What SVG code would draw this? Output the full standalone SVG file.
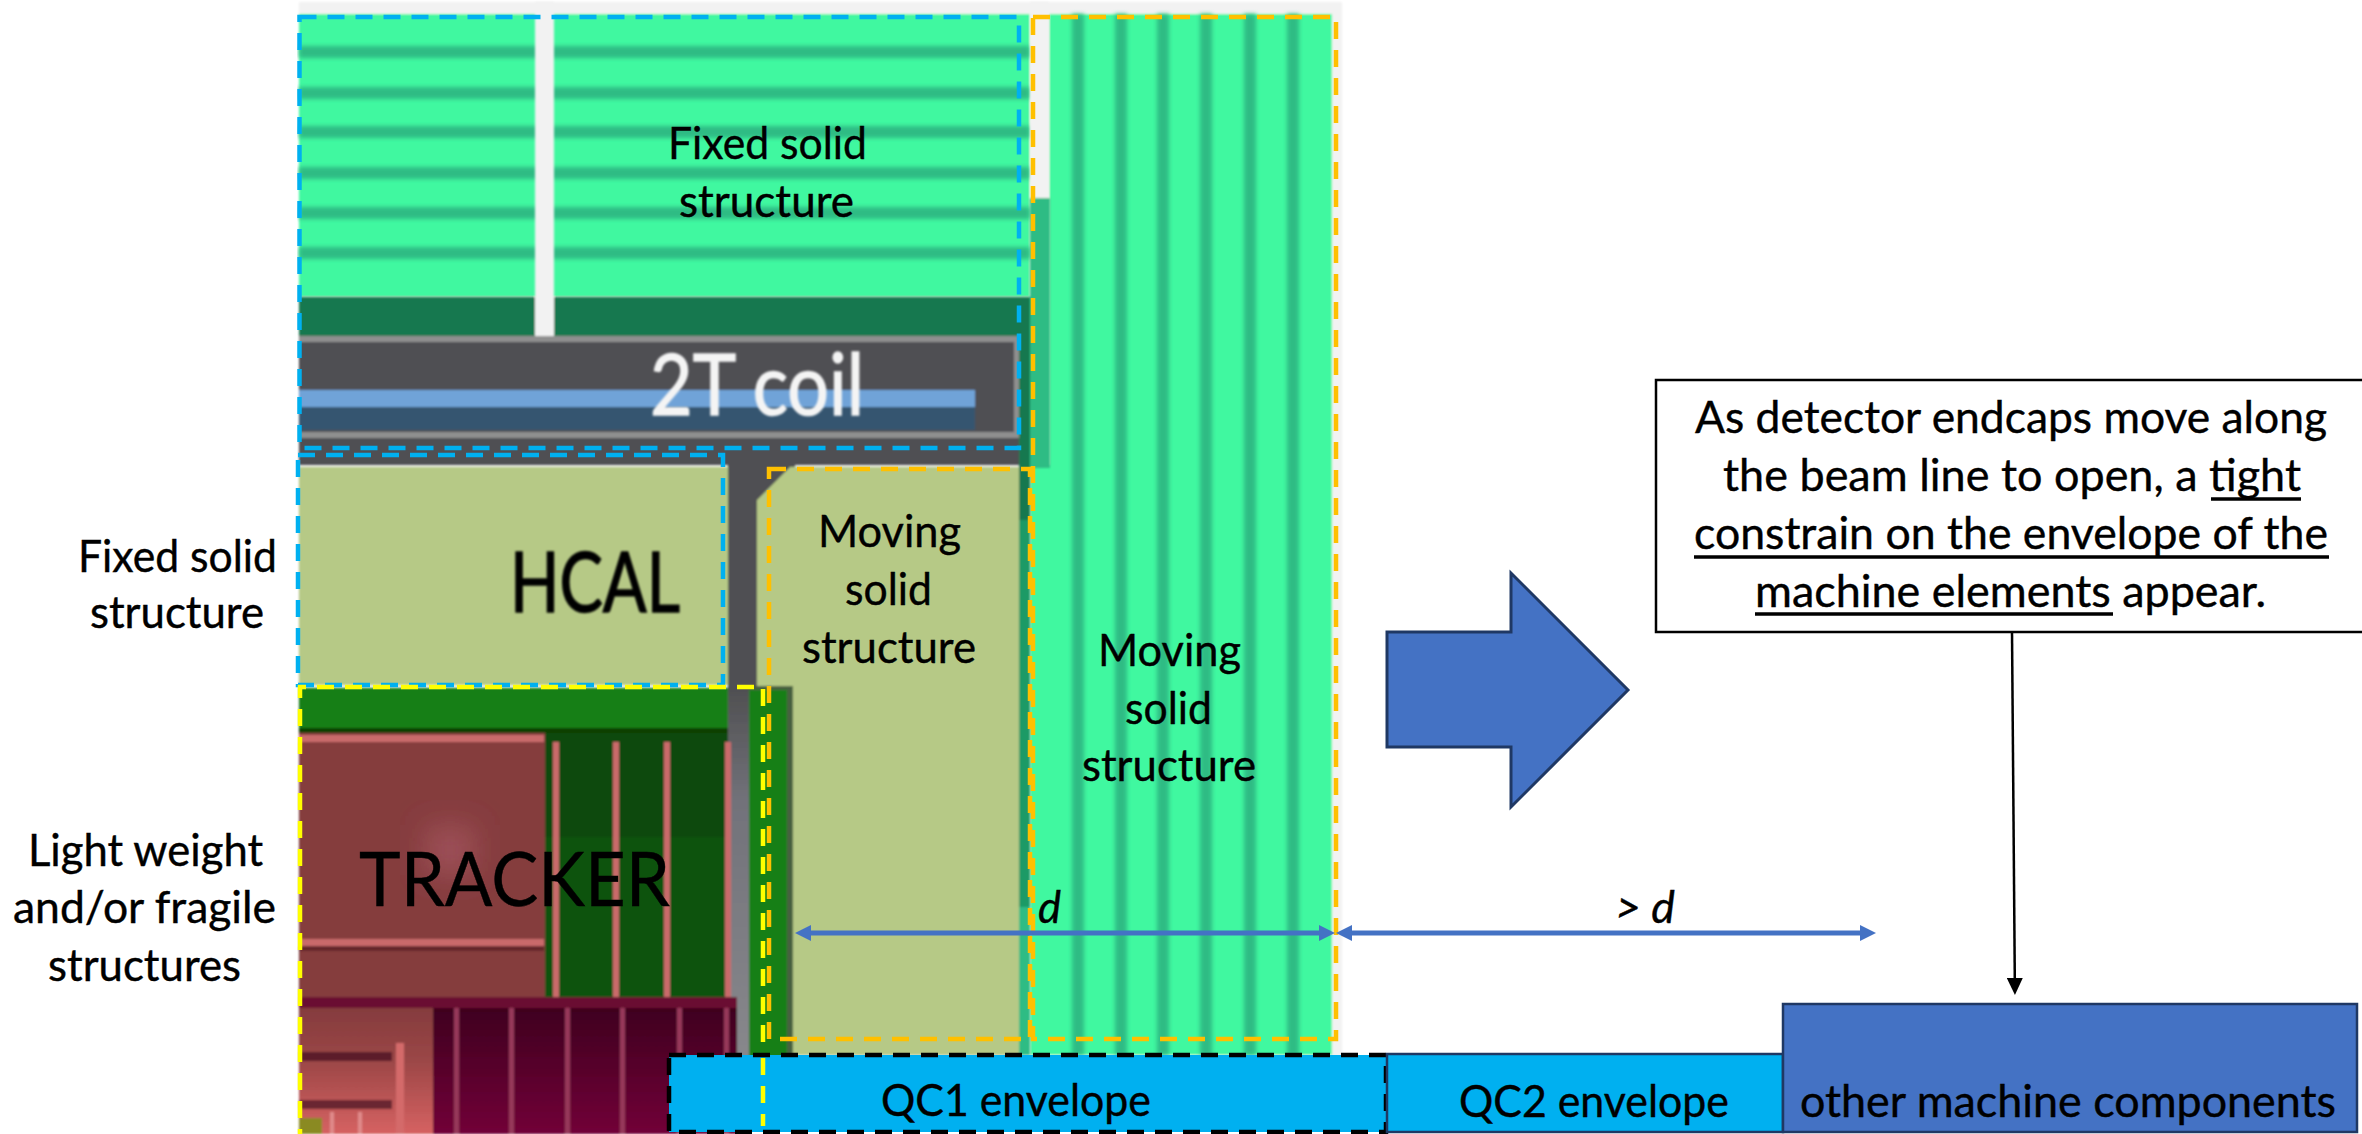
<svg xmlns="http://www.w3.org/2000/svg" width="2362" height="1134" viewBox="0 0 2362 1134">
<style>
text{font-family:"Lato","Carlito","Liberation Sans",sans-serif;font-size:44px;fill:#000;stroke:#000;stroke-width:0.4}
.it{font-style:italic}
.sg{fill:#3ff8a0}.st{fill:#2fbc84}.dg{fill:#17784f}.gr{fill:#505052}.ol{fill:#b6c986}.pk{fill:#c96a6a}.mb{fill:#96375a}
.bd{fill:none;stroke:#00b0f0;stroke-width:4.5;stroke-dasharray:17 11}
.od{fill:none;stroke:#ffc000;stroke-width:4.5;stroke-dasharray:17 11}
.yd{fill:none;stroke:#ffff00;stroke-width:4.5;stroke-dasharray:17 11}
.ul{stroke:#000;stroke-width:3.5}
.qc{fill:#00b0f0;stroke:#1f3864;stroke-width:2.5}
.mc{fill:#4472c4;stroke:#1f3864;stroke-width:2.5}
.ar{stroke:#4472c4;stroke-width:5;fill:none;marker-start:url(#bh);marker-end:url(#bh)}
</style>
<defs>
<filter id="soft" x="-2%" y="-2%" width="104%" height="104%"><feGaussianBlur stdDeviation="1.1"/></filter>
<filter id="soft1" x="-2%" y="-5%" width="104%" height="110%"><feGaussianBlur stdDeviation="2"/></filter>
<filter id="soft2" x="-5%" y="-5%" width="110%" height="110%"><feGaussianBlur stdDeviation="0.9"/></filter>
<filter id="soft3" x="-50%" y="-50%" width="200%" height="200%"><feGaussianBlur stdDeviation="14"/></filter>
<marker id="bh" markerUnits="userSpaceOnUse" markerWidth="16" markerHeight="16" refX="0" refY="8" orient="auto-start-reverse"><path d="M0 0L16 8L0 16z" fill="#4472c4"/></marker>
<marker id="kh" markerUnits="userSpaceOnUse" markerWidth="17" markerHeight="16" refX="0" refY="8" orient="auto"><path d="M0 0L17 8L0 16z" fill="#000"/></marker>
<linearGradient id="mar" x1="0" y1="0" x2="0" y2="1"><stop offset="0" stop-color="#3f051f"/><stop offset="1" stop-color="#720538"/></linearGradient>
<linearGradient id="red" x1="0" y1="0" x2="0" y2="1"><stop offset="0" stop-color="#853c3e"/><stop offset="0.4" stop-color="#9a4646"/><stop offset="1" stop-color="#d66262"/></linearGradient>
<linearGradient id="gry" x1="0" y1="0" x2="0" y2="1"><stop offset="0" stop-color="#505052"/><stop offset="0.3" stop-color="#72727a"/><stop offset="1" stop-color="#88888c"/></linearGradient>
</defs>

<g id="detector-cutaway">
<g filter="url(#soft)">
<rect x="299" y="2" width="1043" height="1060" fill="#f2f2f2"/>
<rect x="299" y="14" width="731" height="283" class="sg"/>
<rect x="1049" y="14" width="283" height="1041" class="sg"/>
<rect x="1030" y="465" width="20" height="590" class="sg"/>
</g>
<g filter="url(#soft1)">
<rect x="299" y="46" width="731" height="12" class="st"/><rect x="299" y="87" width="731" height="12" class="st"/><rect x="299" y="126" width="731" height="12" class="st"/><rect x="299" y="167" width="731" height="12" class="st"/><rect x="299" y="207" width="731" height="12" class="st"/><rect x="299" y="247" width="731" height="12" class="st"/>
<rect x="1072" y="14" width="12" height="1041" class="st"/><rect x="1115" y="14" width="12" height="1041" class="st"/><rect x="1157" y="14" width="12" height="1041" class="st"/><rect x="1200" y="14" width="12" height="1041" class="st"/><rect x="1244" y="14" width="12" height="1041" class="st"/><rect x="1287" y="14" width="12" height="1041" class="st"/>
</g>
<g filter="url(#soft)">
<rect x="299" y="297" width="731" height="40" class="dg"/>
<rect x="1019" y="330" width="11" height="135" class="dg"/>
<rect x="1030" y="198" width="20" height="270" class="st"/>
<rect x="535" y="2" width="19" height="335" fill="#f2f2f2"/>
<rect x="1030" y="2" width="19" height="196" fill="#f2f2f2"/>
<rect x="299" y="336" width="720" height="129" class="gr"/>
<rect x="299" y="336" width="720" height="6" fill="#8f8f8f"/>
<rect x="299" y="432" width="720" height="6" fill="#8f8f8f"/>
<rect x="1014" y="336" width="5" height="102" fill="#8f8f8f"/>
<rect x="299" y="390" width="676" height="17" fill="#6fa3d8"/>
<rect x="299" y="407" width="676" height="23" fill="#35556f"/>
<rect x="299" y="467" width="429" height="218" class="ol"/>
<rect x="728" y="460" width="67" height="50" class="gr"/>
<rect x="728" y="465" width="30" height="225" class="gr"/>
<rect x="728" y="690" width="21" height="370" fill="url(#gry)"/>
<path d="M757 500L790 467H1020V1055H793V686H757z" class="ol"/>
<rect x="1019" y="465" width="11" height="55" fill="#17784f"/>
<rect x="1019" y="520" width="11" height="387" fill="#1f9a66"/>
<rect x="1019" y="907" width="11" height="148" class="st"/>
<rect x="749" y="686" width="44" height="372" fill="#46603f"/>
<rect x="749" y="690" width="38" height="368" fill="#187f16"/>
<rect x="299" y="688" width="429" height="40" fill="#187f16"/>
<rect x="299" y="728" width="429" height="6" fill="#0a3f05"/>
<rect x="545" y="733" width="183" height="265" fill="#0b4a0a"/>
<rect x="545" y="837" width="183" height="160" fill="#0b520a"/>
<rect x="299" y="733" width="246" height="265" fill="#853c3e"/>
<rect x="425" y="825" width="50" height="50" fill="#9c5056" filter="url(#soft3)"/>
<rect x="299" y="735" width="245" height="7" class="pk"/>
<rect x="299" y="939" width="245" height="7" class="pk"/>
<rect x="299" y="946" width="245" height="5" fill="#65282c"/>
<rect x="553" y="742" width="6" height="255" class="pk"/><rect x="613" y="742" width="6" height="255" class="pk"/><rect x="664" y="742" width="6" height="255" class="pk"/><rect x="725" y="742" width="6" height="255" class="pk"/>
<rect x="299" y="997" width="438" height="11" fill="#6a0a30"/>
<rect x="433" y="1008" width="304" height="126" fill="url(#mar)"/>
<rect x="454" y="1008" width="5" height="126" class="mb"/><rect x="509" y="1008" width="5" height="126" class="mb"/><rect x="565" y="1008" width="5" height="126" class="mb"/><rect x="620" y="1008" width="5" height="126" class="mb"/><rect x="677" y="1008" width="5" height="126" class="mb"/><rect x="724" y="1008" width="5" height="126" class="mb"/>
<rect x="299" y="1008" width="134" height="126" fill="url(#red)"/>
<rect x="299" y="1052" width="93" height="9" fill="#5c1f2a"/>
<rect x="299" y="1100" width="93" height="9" fill="#6b2530"/>
<rect x="396" y="1043" width="8" height="91" fill="#d46a6a"/>
<rect x="330" y="1112" width="4" height="22" fill="#e08a8a"/><rect x="358" y="1112" width="4" height="22" fill="#e08a8a"/>
<rect x="299" y="1118" width="23" height="16" fill="#8a8a20"/>
</g>
<rect x="0" y="0" width="297" height="1134" fill="#fff"/>

<rect x="299.5" y="17" width="719.5" height="431" class="bd"/>
<rect x="298" y="455" width="425" height="230" class="bd"/>
<path d="M763 1126V687H300V1134" class="yd"/>
<rect x="769" y="469" width="261" height="570" class="od"/>
<rect x="1033" y="17" width="303" height="1022" class="od"/>
</g>

<g id="label-fixed-top"><text x="668" y="159" textLength="199" lengthAdjust="spacingAndGlyphs">Fixed solid</text><text x="679" y="217" textLength="175" lengthAdjust="spacingAndGlyphs">structure</text></g>
<g id="label-coil" filter="url(#soft2)"><text x="650" y="415" style="font-size:86px;fill:#f4f4f4;stroke:#f4f4f4;stroke-width:1.5" textLength="214" lengthAdjust="spacingAndGlyphs">2T coil</text></g>
<g id="label-hcal" filter="url(#soft2)"><text x="510" y="612" style="font-size:84px;stroke-width:1.5" textLength="170" lengthAdjust="spacingAndGlyphs">HCAL</text></g>
<g id="label-tracker"><text x="359" y="906" style="font-size:75px" textLength="311" lengthAdjust="spacingAndGlyphs">TRACKER</text></g>
<g id="label-moving-1"><text x="818" y="547" textLength="143" lengthAdjust="spacingAndGlyphs">Moving</text><text x="845" y="605" textLength="87" lengthAdjust="spacingAndGlyphs">solid</text><text x="802" y="663" textLength="174" lengthAdjust="spacingAndGlyphs">structure</text></g>
<g id="label-moving-2"><text x="1098" y="666" textLength="143" lengthAdjust="spacingAndGlyphs">Moving</text><text x="1125" y="724" textLength="87" lengthAdjust="spacingAndGlyphs">solid</text><text x="1082" y="781" textLength="174" lengthAdjust="spacingAndGlyphs">structure</text></g>
<g id="label-fixed-left"><text x="78" y="572" textLength="199" lengthAdjust="spacingAndGlyphs">Fixed solid</text><text x="90" y="628" textLength="174" lengthAdjust="spacingAndGlyphs">structure</text></g>
<g id="label-light"><text x="28" y="866" textLength="235" lengthAdjust="spacingAndGlyphs">Light weight</text><text x="13" y="923" textLength="263" lengthAdjust="spacingAndGlyphs">and/or fragile</text><text x="48" y="981" textLength="193" lengthAdjust="spacingAndGlyphs">structures</text></g>

<g id="block-arrow"><path d="M1387 632H1511V573L1628 690L1511 807V747H1387z" fill="#4472c4" stroke="#1f3864" stroke-width="3"/></g>

<g id="callout">
<rect x="1656" y="380" width="720" height="252" fill="#fff" stroke="#000" stroke-width="2.5"/>
<text x="1695" y="433" textLength="632" lengthAdjust="spacingAndGlyphs">As detector endcaps move along</text>
<text x="1723" y="491" textLength="578" lengthAdjust="spacingAndGlyphs">the beam line to open, a tight</text>
<text x="1694" y="549" textLength="634" lengthAdjust="spacingAndGlyphs">constrain on the envelope of the</text>
<text x="1755" y="607" textLength="511" lengthAdjust="spacingAndGlyphs">machine elements appear.</text>
<line x1="2211" y1="499" x2="2301" y2="499" class="ul"/>
<line x1="1694" y1="557" x2="2329" y2="557" class="ul"/>
<line x1="1755" y1="614" x2="2113" y2="614" class="ul"/>
</g>

<g id="qc1"><rect x="669" y="1055" width="717" height="77" fill="#00b0f0" stroke="#000" stroke-width="4.5" stroke-dasharray="17 11"/><path d="M763 1058V1126" class="yd"/><text x="881" y="1116" textLength="270" lengthAdjust="spacingAndGlyphs">QC1 envelope</text></g>
<g id="qc2"><rect x="1387" y="1054" width="396" height="78" class="qc"/><text x="1459" y="1117" textLength="270" lengthAdjust="spacingAndGlyphs">QC2 envelope</text></g>
<g id="other"><rect x="1783" y="1004" width="574" height="128" class="mc"/><text x="1800" y="1117" textLength="536" lengthAdjust="spacingAndGlyphs">other machine components</text></g>

<g id="connectors">
<line x1="811" y1="933" x2="1319" y2="933" class="ar"/>
<line x1="1352" y1="933" x2="1860" y2="933" class="ar"/>
<line x1="2012" y1="632" x2="2014.8" y2="978" stroke="#000" stroke-width="2.5" marker-end="url(#kh)"/>
</g>
<g id="dimension-labels">
<text x="1038" y="923" class="it" textLength="23" lengthAdjust="spacingAndGlyphs">d</text>
<text x="1615" y="923" class="it" textLength="60" lengthAdjust="spacingAndGlyphs">&gt; d</text>
</g>
</svg>
